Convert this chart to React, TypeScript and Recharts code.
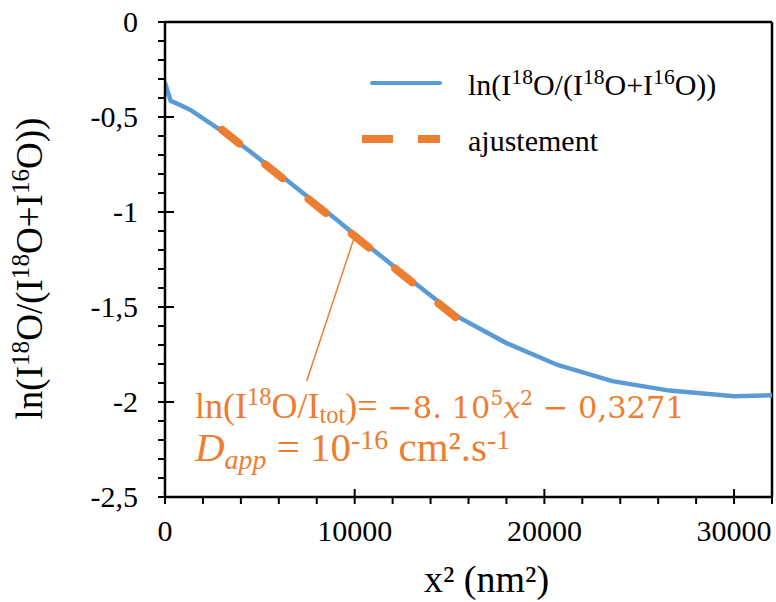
import React from 'react';
import { LineChart, Line, XAxis, YAxis, ReferenceLine, ReferenceDot, Legend, Label } from 'recharts';

// ---- data ----
const depthSq = [0, 300, 760, 1380, 2200, 3200, 4400, 5780, 7340, 9100, 11050, 13180, 15500, 18000, 20700, 23580, 26600, 30000, 32000];
const lnRatio = [-0.32, -0.415, -0.435, -0.465, -0.52, -0.587, -0.675, -0.782, -0.905, -1.045, -1.205, -1.375, -1.555, -1.69, -1.805, -1.89, -1.94, -1.97, -1.965];
const fitX = [3000, 15500];
const fitY = [-0.567, -1.567];
const xTicks = [0, 2000, 4000, 6000, 8000, 10000, 12000, 14000, 16000, 18000, 20000, 22000, 24000, 26000, 28000, 30000, 32000];
const yTicks = [0, -0.1, -0.2, -0.3, -0.4, -0.5, -0.6, -0.7, -0.8, -0.9, -1, -1.1, -1.2, -1.3, -1.4, -1.5, -1.6, -1.7, -1.8, -1.9, -2, -2.1, -2.2, -2.3, -2.4, -2.5];
const leaderFrom = { x: 10000, y: -1.127 };
const leaderTo = { x: 7470, y: -1.89 };
const annotAt = { x: 1580, y: -2.085 };

const seriesData = depthSq.map((x, i) => ({ x, y: lnRatio[i] }));
const fitData = fitX.map((x, i) => ({ x, y: fitY[i] }));

const BLUE = '#5B9BD5';
const ORANGE = '#ED7D31';
const SERIF = '"Liberation Serif", "Times New Roman", serif';
const MATH = '"DejaVu Serif", serif';

type Part = { t: string; s?: 'sup' | 'sub'; i?: boolean; f?: string; size?: number };

function rich(parts: Part[], size: number, supScale = 0.68, supShift = 0.36, subShift = 0.2) {
  let cur = 0;
  return parts.map((p, k) => {
    const target = p.s === 'sup' ? -size * supShift : p.s === 'sub' ? size * subShift : 0;
    const dy = target - cur;
    cur = target;
    const fs = p.size ?? (p.s ? size * supScale : size);
    return (
      <tspan key={k} dy={dy} fontSize={fs} fontStyle={p.i ? 'italic' : 'normal'} fontFamily={p.f ?? SERIF}>
        {p.t}
      </tspan>
    );
  });
}

const ratioLabel: Part[] = [
  { t: 'ln(I' }, { t: '18', s: 'sup' }, { t: 'O/(I' }, { t: '18', s: 'sup' }, { t: 'O+I' }, { t: '16', s: 'sup' }, { t: 'O))' },
];

const TS = 7;
const TM = 0;

function XTick(props: any) {
  const { x, y, payload } = props;
  const axisY = y - TS - TM;
  const v = payload.value;
  const major = v % 10000 === 0;
  return (
    <g>
      <line x1={x} x2={x} y1={major ? axisY - 8 : axisY} y2={axisY + 7} stroke="#000" strokeWidth={2} />
      {major && (
        <text x={x} y={axisY + 44} textAnchor="middle" fontFamily={SERIF} fontSize={30} fill="#000">
          {v}
        </text>
      )}
    </g>
  );
}

function YTick(props: any) {
  const { x, y, payload } = props;
  const axisX = x + TS + TM;
  const v = payload.value;
  const major = Math.abs(v * 2 - Math.round(v * 2)) < 1e-6;
  return (
    <g>
      <line x1={axisX - 7} x2={major ? axisX + 9 : axisX} y1={y} y2={y} stroke="#000" strokeWidth={2} />
      {major && (
        <text x={axisX - 27} y={y + 10} textAnchor="end" fontFamily={SERIF} fontSize={30} fill="#000">
          {String(v).replace('.', ',')}
        </text>
      )}
    </g>
  );
}

function XTitle(props: any) {
  const vb = props.viewBox || { x: 165, y: 497, width: 607, height: 105 };
  return (
    <text x={vb.x + vb.width / 2 + 18} y={vb.y + 95} textAnchor="middle" fontFamily={SERIF} fontSize={38} fill="#000">
      x² (nm²)
    </text>
  );
}

function YTitle(props: any) {
  const vb = props.viewBox || { x: 0, y: 22, width: 165, height: 475 };
  const cx = vb.x + 42;
  const cy = vb.y + vb.height / 2 + 9;
  return (
    <text x={cx} y={cy} textAnchor="middle" transform={`rotate(-90 ${cx} ${cy})`} fontFamily={SERIF} fontSize={37} fill="#000" style={{ whiteSpace: 'pre' }}>
      {rich(ratioLabel, 37)}
    </text>
  );
}

function Annotation(props: any) {
  const vb = props.viewBox || { x: 195, y: 419 };
  const x = vb.x + (vb.width || 0) / 2;
  const y = vb.y + (vb.height || 0) / 2;
  const line1: Part[] = [
    { t: 'ln(I' }, { t: '18', s: 'sup' }, { t: 'O/I' }, { t: 'tot', s: 'sub' }, { t: ')=' },
    { t: ' −8. 10', f: MATH, size: 30.5 }, { t: '5', s: 'sup', f: MATH, size: 20 }, { t: 'x', i: true, f: MATH, size: 30.5 },
    { t: '2', s: 'sup', f: MATH, size: 20 }, { t: ' − 0,3271', f: MATH, size: 30.5 },
  ];
  const line2: Part[] = [
    { t: 'D', i: true }, { t: 'app', s: 'sub', i: true }, { t: ' = 10' }, { t: '-16', s: 'sup' }, { t: ' cm².s' }, { t: '-1', s: 'sup' },
  ];
  return (
    <g fill={ORANGE}>
      <text x={x} y={y} fontFamily={SERIF} fontSize={36} fill={ORANGE} style={{ whiteSpace: 'pre' }}>
        {rich(line1, 36, 0.68, 0.36, 0.13)}
      </text>
      <text x={x} y={y + 43} fontFamily={SERIF} fontSize={41} fill={ORANGE} style={{ whiteSpace: 'pre' }}>
        {rich(line2, 41, 0.68, 0.3, 0.2)}
      </text>
    </g>
  );
}

function LegendContent() {
  return (
    <svg width={420} height={110} style={{ overflow: 'visible' }}>
      <line x1={17} x2={85} y1={33} y2={33} stroke={BLUE} strokeWidth={4} strokeLinecap="round" />
      <text x={113} y={45} fontFamily={SERIF} fontSize={30} fill="#000" style={{ whiteSpace: 'pre' }}>
        {rich(ratioLabel, 30, 0.72)}
      </text>
      <line x1={7} x2={85} y1={89} y2={89} stroke={ORANGE} strokeWidth={8} strokeDasharray="31 25" />
      <text x={113} y={100.7} fontFamily={SERIF} fontSize={30} fill="#000">
        ajustement
      </text>
    </svg>
  );
}

export default function App() {
  return (
    <div style={{ position: 'absolute', left: 0, top: 0, width: 776, height: 602, background: '#fff' }}>
      <LineChart width={776} height={602} margin={{ top: 22, right: 4, left: 0, bottom: 0 }}>
        <XAxis
          dataKey="x"
          type="number"
          domain={[0, 32000]}
          ticks={xTicks}
          interval={0}
          allowDataOverflow
          height={105}
          tickSize={TS}
          tickMargin={TM}
          tickLine={false}
          tick={<XTick />}
          axisLine={{ stroke: '#000', strokeWidth: 2.5 }}
        >
          <Label content={<XTitle />} />
        </XAxis>
        <YAxis
          dataKey="y"
          type="number"
          domain={[-2.5, 0]}
          ticks={yTicks}
          interval={0}
          allowDataOverflow
          width={165}
          tickSize={TS}
          tickMargin={TM}
          tickLine={false}
          tick={<YTick />}
          axisLine={{ stroke: '#000', strokeWidth: 2.5 }}
        >
          <Label content={<YTitle />} />
        </YAxis>
        <ReferenceLine y={0} stroke="#000" strokeWidth={2.5} />
        <ReferenceLine x={32000} stroke="#000" strokeWidth={2.5} />
        <ReferenceLine segment={[leaderFrom, leaderTo]} stroke={ORANGE} strokeWidth={1.5} />
        <Line
          data={seriesData}
          dataKey="y"
          type="linear"
          stroke={BLUE}
          strokeWidth={4.5}
          dot={false}
          isAnimationActive={false}
          name="ln(I18O/(I18O+I16O))"
        />
        <Line
          data={fitData}
          dataKey="y"
          type="linear"
          stroke={ORANGE}
          strokeWidth={8}
          strokeDasharray="22 33.5"
          strokeLinecap="round"
          dot={false}
          isAnimationActive={false}
          name="ajustement"
        />
        <ReferenceDot x={annotAt.x} y={annotAt.y} r={0} fill="none" stroke="none" label={<Annotation />} />
        <Legend
          layout="vertical"
          align="center"
          verticalAlign="middle"
          content={<LegendContent />}
          wrapperStyle={{ left: 355, top: 50, width: 420, height: 110 }}
        />
      </LineChart>
    </div>
  );
}
